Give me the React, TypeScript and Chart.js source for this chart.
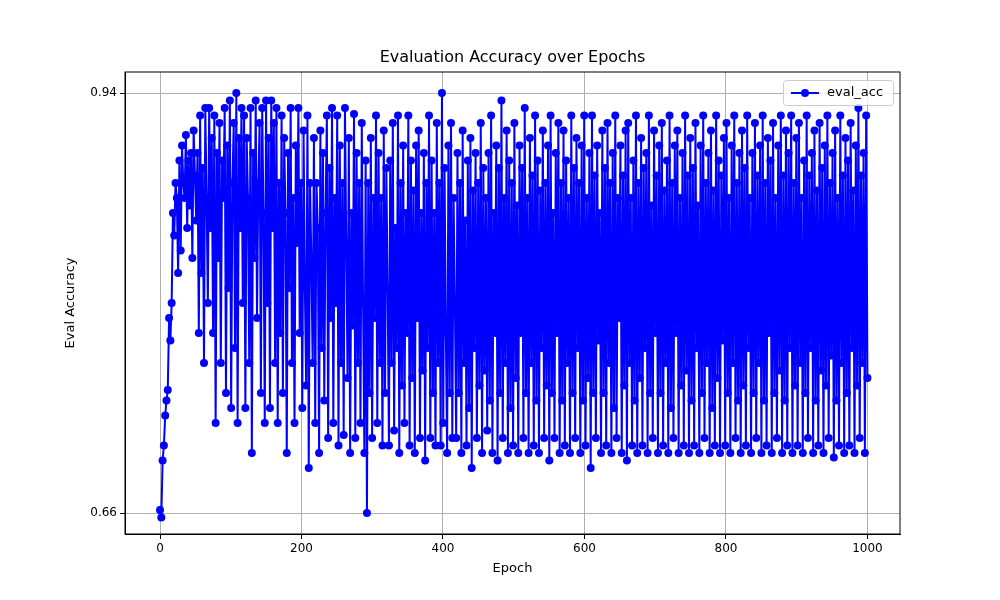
import React, { useEffect, useRef } from "react";
import { Chart, registerables } from "chart.js";
Chart.register(...registerables);

const evalAcc: number[] = [
0.662,0.657,0.695,0.705,0.725,0.735,0.742,0.790,0.775,0.800,0.860,0.845,0.880,0.870,0.820,0.895,0.835,0.905,0.880,0.870,0.912,0.850,0.895,0.865,0.900,0.830,0.915,0.885,0.855,0.900,
0.780,0.925,0.820,0.890,0.760,0.930,0.870,0.800,0.930,0.850,0.910,0.780,0.925,0.720,0.900,0.830,0.920,0.760,0.895,0.870,
0.930,0.740,0.905,0.810,0.935,0.730,0.880,0.920,0.770,0.940,0.720,0.910,0.850,0.930,0.800,0.925,0.730,0.910,0.870,0.760,
0.930,0.700,0.900,0.830,0.935,0.790,0.880,0.920,0.740,0.930,0.860,0.720,0.935,0.800,0.910,0.730,0.935,0.850,0.920,0.760,
0.930,0.720,0.880,0.780,0.925,0.740,0.910,0.860,0.700,0.900,0.810,0.930,0.760,0.870,0.720,0.905,0.840,0.930,0.780,0.880,
0.730,0.915,0.810,0.745,0.925,0.690,0.880,0.830,0.760,0.910,0.720,0.880,0.850,0.700,0.915,0.770,0.900,0.735,0.860,0.925,
0.710,0.890,0.790,0.930,0.720,0.870,0.800,0.925,0.705,0.905,0.760,0.880,0.712,0.930,0.840,0.750,0.910,0.700,0.860,0.785,
0.926,0.710,0.900,0.760,0.880,0.720,0.920,0.800,0.700,0.895,0.660,0.880,0.740,0.910,0.710,0.870,0.790,0.925,0.720,0.900,
0.760,0.870,0.705,0.915,0.740,0.890,0.810,0.705,0.895,0.760,0.920,0.715,0.850,0.770,0.925,0.700,0.880,0.745,0.905,0.720,
0.860,0.780,0.925,0.705,0.895,0.750,0.875,0.700,0.905,0.790,0.915,0.710,0.860,0.755,0.900,0.695,0.880,0.770,0.925,0.710,
0.895,0.740,0.860,0.705,0.920,0.760,0.880,0.705,0.940,0.720,0.890,0.780,0.700,0.905,0.740,0.920,0.710,0.870,0.800,0.710,
0.900,0.740,0.880,0.700,0.915,0.760,0.855,0.705,0.895,0.730,0.910,0.690,0.875,0.770,0.900,0.710,0.880,0.745,0.920,0.700,
0.890,0.755,0.870,0.715,0.900,0.735,0.925,0.700,0.860,0.780,0.905,0.695,0.890,0.740,0.935,0.710,0.870,0.760,0.915,0.700,
0.895,0.730,0.880,0.705,0.920,0.750,0.865,0.700,0.905,0.780,0.890,0.710,0.930,0.740,0.870,0.700,0.910,0.760,0.885,0.705,
0.925,0.735,0.895,0.700,0.875,0.770,0.915,0.710,0.880,0.745,0.905,0.695,0.925,0.740,0.860,0.710,0.900,0.780,0.920,0.700,
0.880,0.735,0.915,0.705,0.895,0.760,0.870,0.700,0.925,0.740,0.890,0.710,0.910,0.770,0.880,0.700,0.905,0.735,0.925,0.705,
0.870,0.750,0.900,0.690,0.925,0.740,0.885,0.710,0.905,0.775,0.860,0.700,0.915,0.740,0.890,0.705,0.920,0.760,0.880,0.700,
0.900,0.730,0.925,0.710,0.870,0.790,0.905,0.700,0.885,0.745,0.915,0.695,0.920,0.760,0.870,0.705,0.895,0.735,0.925,0.700,
0.880,0.750,0.910,0.705,0.890,0.770,0.900,0.700,0.925,0.740,0.865,0.710,0.915,0.780,0.885,0.700,0.905,0.740,0.920,0.705,
0.875,0.760,0.895,0.700,0.925,0.730,0.880,0.710,0.905,0.780,0.915,0.700,0.870,0.745,0.900,0.705,0.925,0.755,0.885,0.700,
0.910,0.735,0.890,0.705,0.920,0.770,0.865,0.700,0.905,0.740,0.925,0.710,0.880,0.760,0.900,0.700,0.915,0.730,0.875,0.705,
0.925,0.750,0.895,0.700,0.885,0.775,0.910,0.705,0.920,0.740,0.870,0.700,0.905,0.760,0.925,0.710,0.880,0.735,0.900,0.700,
0.915,0.745,0.890,0.705,0.925,0.770,0.870,0.700,0.900,0.740,0.920,0.710,0.885,0.760,0.905,0.700,0.925,0.735,0.880,0.705,
0.910,0.780,0.895,0.700,0.920,0.740,0.870,0.710,0.905,0.755,0.925,0.700,0.885,0.735,0.915,0.705,0.900,0.770,0.925,0.700,
0.880,0.745,0.910,0.705,0.920,0.760,0.870,0.700,0.895,0.740,0.925,0.710,0.885,0.770,0.900,0.700,0.915,0.735,0.875,0.705,
0.920,0.755,0.890,0.700,0.905,0.745,0.925,0.710,0.880,0.765,0.900,0.697,0.915,0.735,0.870,0.705,0.925,0.760,0.885,0.700,
0.910,0.740,0.895,0.705,0.920,0.770,0.875,0.700,0.905,0.745,0.930,0.710,0.885,0.760,0.900,0.700,0.925,0.750
];
const maxEpoch = 1000;
const epochs = evalAcc.map((_, i) => (i * maxEpoch) / (evalAcc.length - 1));
const xTicks = [0, 200, 400, 600, 800, 1000];
const yTicks = [0.66, 0.94];

const FONT = "'DejaVu Sans', sans-serif";

export default function App() {
  const ref = useRef<HTMLCanvasElement>(null);
  useEffect(() => {
    document.body.style.margin = "0";
    const deco = {
      id: "deco",
      afterDraw(c: any) {
        const ctx = c.ctx;
        const a = c.chartArea;
        ctx.save();
        ctx.strokeStyle = "#000";
        ctx.lineWidth = 1;
        ctx.strokeRect(a.left, a.top, a.right - a.left, a.bottom - a.top);
        ctx.fillStyle = "#000";
        ctx.font = `16px ${FONT}`;
        ctx.textAlign = "center";
        ctx.textBaseline = "middle";
        ctx.fillText("Evaluation Accuracy over Epochs", (a.left + a.right) / 2, 58);
        ctx.font = `13px ${FONT}`;
        ctx.fillText("Epoch", (a.left + a.right) / 2, 569);
        ctx.save();
        ctx.translate(71, (a.top + a.bottom) / 2);
        ctx.rotate(-Math.PI / 2);
        ctx.fillText("Eval Accuracy", 0, 0);
        ctx.restore();
        // legend
        const x0 = 783, y0 = 80, w = 110, h = 25;
        ctx.fillStyle = "rgba(255,255,255,0.8)";
        ctx.strokeStyle = "#cccccc";
        ctx.beginPath();
        ctx.roundRect(x0 + 0.5, y0 + 0.5, w, h, 3);
        ctx.fill();
        ctx.stroke();
        ctx.strokeStyle = "#0000ff";
        ctx.lineWidth = 2;
        ctx.beginPath();
        ctx.moveTo(x0 + 8, y0 + 13);
        ctx.lineTo(x0 + 36, y0 + 13);
        ctx.stroke();
        ctx.fillStyle = "#0000ff";
        ctx.beginPath();
        ctx.arc(x0 + 22, y0 + 13, 4, 0, Math.PI * 2);
        ctx.fill();
        ctx.fillStyle = "#000";
        ctx.font = `13px ${FONT}`;
        ctx.textAlign = "left";
        ctx.fillText("eval_acc", x0 + 44, y0 + 13);
        ctx.restore();
      },
    };
    const chart = new Chart(ref.current!, {
      type: "line",
      data: {
        datasets: [{
          label: "eval_acc",
          data: epochs.map((e, i) => ({ x: e, y: evalAcc[i] })),
          borderColor: "#0000ff",
          backgroundColor: "#0000ff",
          borderWidth: 2,
          pointRadius: 4,
          pointBorderWidth: 0,
          tension: 0,
        }],
      },
      options: {
        animation: false,
        responsive: false,
        layout: { padding: { top: 72, right: 100, left: 0, bottom: 0 } },
        plugins: { legend: { display: false }, tooltip: { enabled: false } },
        scales: {
          x: {
            type: "linear", min: -49.5, max: 1046,
            afterBuildTicks: (s: any) => { s.ticks = xTicks.map(v => ({ value: v })); },
            afterFit: (s: any) => { s.height = 66; },
            grid: { color: "#b0b0b0", tickColor: "#000", tickLength: 5 },
            border: { color: "#000" },
            ticks: { color: "#000", font: { family: FONT, size: 12 }, maxRotation: 0, callback: (v: any) => String(v) },
          },
          y: {
            min: 0.646, max: 0.954,
            afterBuildTicks: (s: any) => { s.ticks = yTicks.map(v => ({ value: v })); },
            afterFit: (s: any) => { s.width = 125; },
            grid: { color: "#b0b0b0", tickColor: "#000", tickLength: 5 },
            border: { color: "#000" },
            ticks: { color: "#000", font: { family: FONT, size: 12 }, callback: (v: any) => Number(v).toFixed(2) },
          },
        },
      },
      plugins: [deco],
    });
    return () => chart.destroy();
  }, []);
  return <div style={{ width: 1000, height: 600, background: "#fff" }}><canvas ref={ref} width={1000} height={600} /></div>;
}
